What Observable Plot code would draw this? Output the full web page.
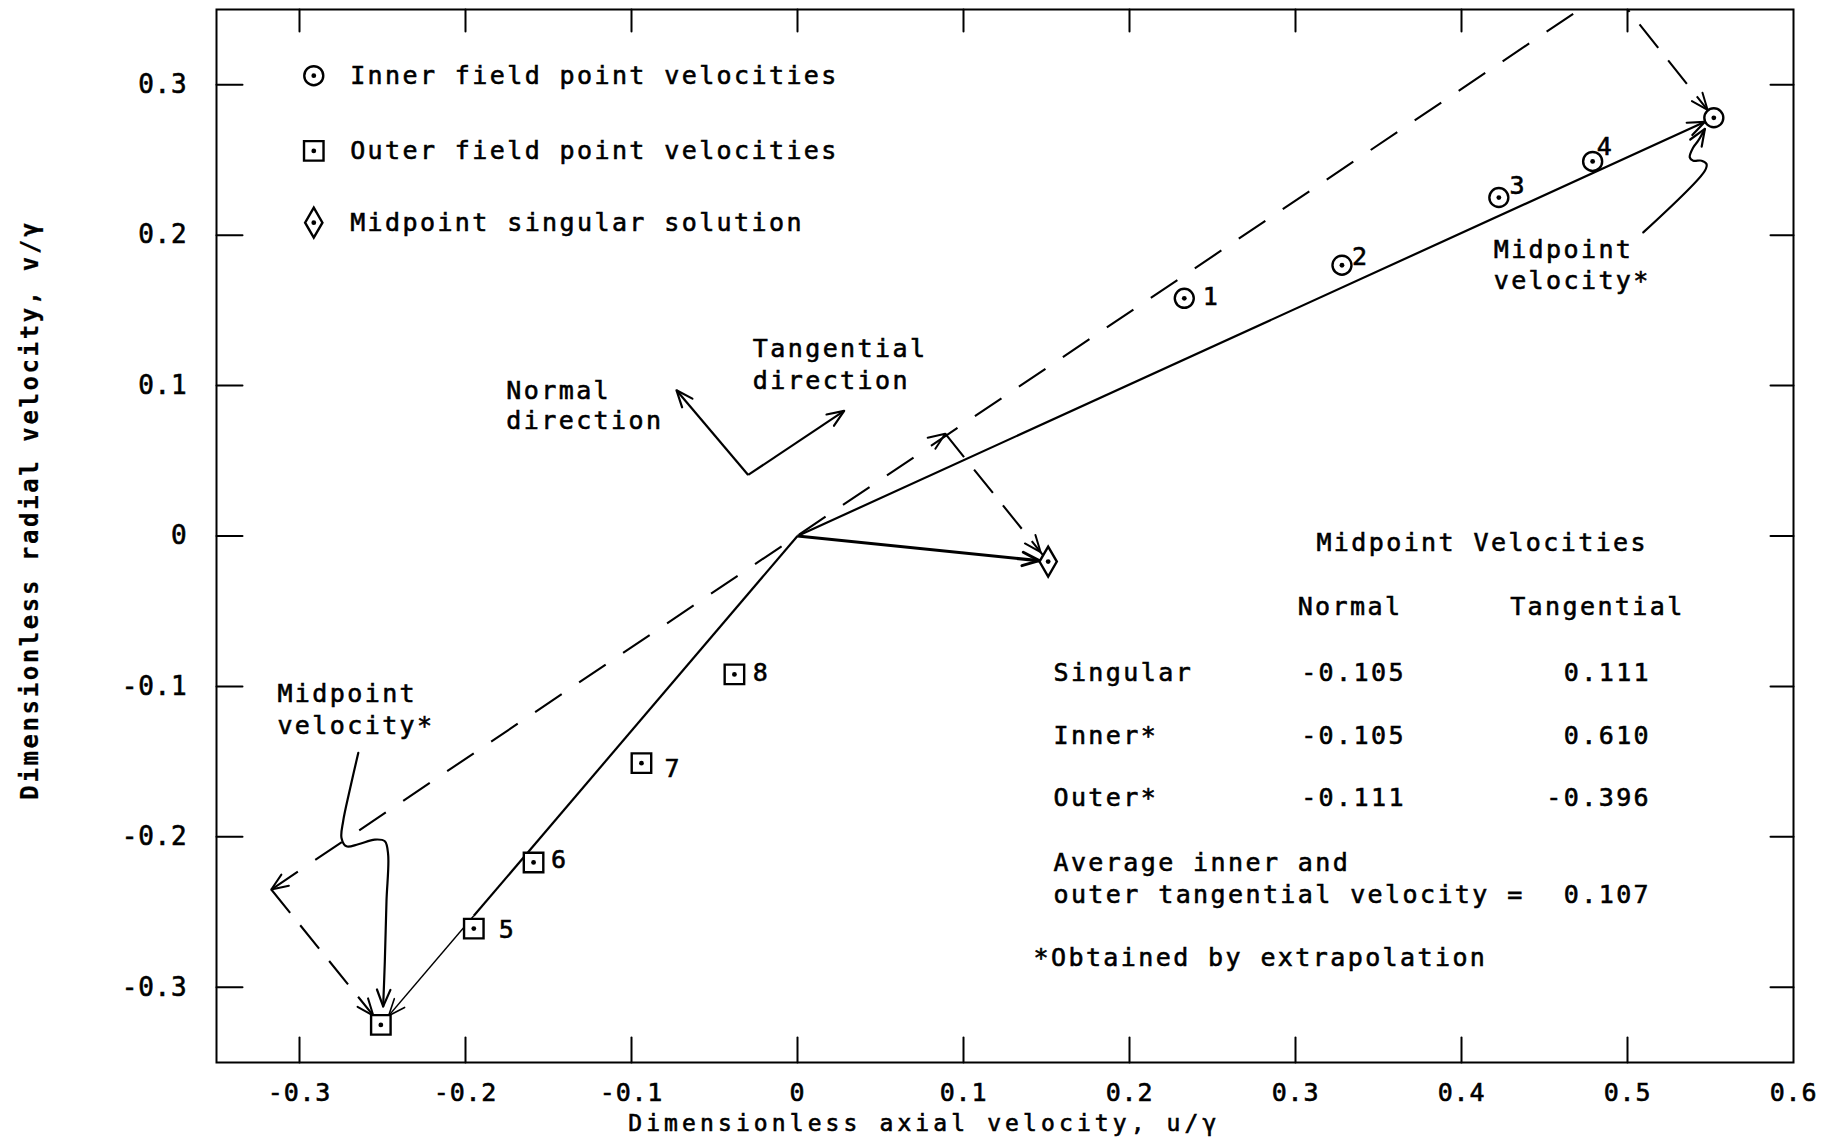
<!DOCTYPE html>
<html><head><meta charset="utf-8">
<script src="https://cdn.jsdelivr.net/npm/d3@7"></script>
<script src="https://cdn.jsdelivr.net/npm/@observablehq/plot@0.6"></script>
<style>
html,body{margin:0;padding:0;background:#fff;}
#chart svg text{letter-spacing:2.4px;stroke:#000;stroke-width:0.6px;}
#chart g[aria-label="x-axis tick label"] text,
#chart g[aria-label="y-axis tick label"] text{letter-spacing:0.8px;}
</style></head><body><div id="chart"></div>
<script>
// ---------- data ----------
const xTicks = [-0.3, -0.2, -0.1, 0, 0.1, 0.2, 0.3, 0.4, 0.5, 0.6];
const yTicks = [-0.3, -0.2, -0.1, 0, 0.1, 0.2, 0.3];

const innerPoints = [
  {label: "1", u: 0.233, v: 0.158},
  {label: "2", u: 0.328, v: 0.180},
  {label: "3", u: 0.4225, v: 0.225},
  {label: "4", u: 0.479, v: 0.249}
];
const outerPoints = [
  {label: "5", u: -0.195, v: -0.261},
  {label: "6", u: -0.159, v: -0.217},
  {label: "7", u: -0.094, v: -0.151},
  {label: "8", u: -0.038, v: -0.092}
];
const origin = {u: 0, v: 0};
const singular = {u: 0.151, v: -0.017};
const innerMid = {u: 0.552, v: 0.278};
const outerMid = {u: -0.251, v: -0.325};
// ends of the tangential components (dashed construction)
const tangSingular = {u: 0.089, v: 0.068};
const tangInner = {u: 0.490, v: 0.364};
const tangOuter = {u: -0.317, v: -0.235};
// normal / tangential direction key
const dirOrigin = {u: -0.0297, v: 0.0406};
const normalTip = {u: -0.0729, v: 0.0969};
const tangTip = {u: 0.0281, v: 0.0832};

const tableRows = ["Singular", "Inner*", "Outer*"];
const tableNormal = ["-0.105", "-0.105", "-0.111"];
const tableTangential = ["0.111", "0.610", "-0.396"];
const averageTangential = "0.107";

const legendItems = ["Inner field point velocities", "Outer field point velocities", "Midpoint singular solution"];
const xTitle = "Dimensionless axial velocity, u/γ";
const yTitle = "Dimensionless radial velocity, v/γ";

// leader curves for "Midpoint velocity*"
const leaderInner = [[0.5095,0.2018],[0.5466,0.2428],[0.5476,0.2473],[0.5446,0.2495],[0.5396,0.2495],[0.5375,0.2517],[0.5396,0.2583],[0.5426,0.2628],[0.5466,0.2706]];
const leaderOuter = [[-0.2646,-0.1442],[-0.2699,-0.1697],[-0.2737,-0.1896],[-0.2747,-0.2007],[-0.2717,-0.2063],[-0.2646,-0.2049],[-0.2546,-0.2018],[-0.2486,-0.2029],[-0.2466,-0.2118],[-0.2476,-0.2428],[-0.2486,-0.2828],[-0.2496,-0.3127]];

// annotation text placement (data units)
const pointLabelPos = [[0.2494,0.1586],[0.3393,0.1852],[0.4341,0.2329],[0.4867,0.2584],[-0.1747,-0.2617],[-0.1432,-0.2151],[-0.0749,-0.1552],[-0.0217,-0.0910]];
const legendU = [-0.2914, -0.2695];
const legendV = [0.306, 0.256, 0.2083];
const rowV = [-0.0908, -0.1330, -0.1744];

// ---------- layout ----------
const W = 1841, H = 1139, ML = 216, MR = 48, MT = 9, MB = 77;
const xDom = [-0.35, 0.6], yDom = [-0.35, 0.35];
const kx = (W - ML - MR) / (xDom[1] - xDom[0]);
const ky = (H - MT - MB) / (yDom[1] - yDom[0]);
const angle = (a, b) => Math.atan2((b.u - a.u) * kx, (b.v - a.v) * ky) * 180 / Math.PI;
const P = (d) => ({u: d[0], v: d[1]});

function chevron(inset, len = 18, half = 22) {
  const a = half * Math.PI / 180, h = len * Math.cos(a), w = len * Math.sin(a);
  return {draw(ctx) { ctx.moveTo(-w, inset + h); ctx.lineTo(0, inset); ctx.lineTo(w, inset + h); }};
}
const tickShape = {draw(ctx, l) { ctx.moveTo(0, 0); ctx.lineTo(0, -l); }};

const tBreak = outerPoints[0].u / outerMid.u;
const outerBreak = {u: outerMid.u * tBreak, v: outerMid.v * tBreak};

const solid = [
  {a: origin, b: innerMid, w: 2.2},
  {a: origin, b: singular, w: 3.2},
  {a: origin, b: outerBreak, w: 2.2},
  {a: outerBreak, b: outerMid, w: 1.4},
  {a: dirOrigin, b: normalTip, w: 2.2},
  {a: dirOrigin, b: tangTip, w: 2.2}
];
const dashedTangent = [{a: tangOuter, b: tangInner}];
const dashedNormal = [
  {a: tangSingular, b: singular},
  {a: tangInner, b: innerMid},
  {a: tangOuter, b: outerMid}
];
const LI = leaderInner.length, LO = leaderOuter.length;
const heads = [
  {a: origin, b: innerMid, inset: 10, w: 2.2},
  {a: origin, b: singular, inset: 9, w: 3},
  {a: origin, b: outerMid, inset: 12, w: 1.6},
  {a: dirOrigin, b: normalTip, inset: 0, w: 2.2},
  {a: dirOrigin, b: tangTip, inset: 0, w: 2.2},
  {a: origin, b: tangSingular, inset: 0, w: 2},
  {a: origin, b: tangOuter, inset: 0, w: 2},
  {a: tangSingular, b: singular, inset: 12, w: 2},
  {a: tangInner, b: innerMid, inset: 10, w: 2},
  {a: tangOuter, b: outerMid, inset: 12, w: 2},
  {a: P(leaderInner[LI - 3]), b: P(leaderInner[LI - 1]), inset: 0, w: 2.2},
  {a: P(leaderOuter[LO - 3]), b: P(leaderOuter[LO - 1]), inset: 0, w: 2.2}
];

const notes = [
  {t: "Tangential", u: -0.0269, v: 0.1240},
  {t: "direction", u: -0.0269, v: 0.1029},
  {t: "Normal", u: -0.1754, v: 0.0966},
  {t: "direction", u: -0.1754, v: 0.0763},
  {t: "Midpoint", u: 0.4194, v: 0.1904},
  {t: "velocity*", u: 0.4194, v: 0.1693},
  {t: "Midpoint", u: -0.3133, v: -0.1049},
  {t: "velocity*", u: -0.3133, v: -0.1260},
  {t: "Midpoint Velocities", u: 0.3126, v: -0.0049},
  {t: "Normal", u: 0.3013, v: -0.0471},
  {t: "Tangential", u: 0.4293, v: -0.0471},
  ...tableRows.map((t, i) => ({t, u: 0.1542, v: rowV[i]})),
  ...tableNormal.map((t, i) => ({t, u: 0.3034, v: rowV[i]})),
  {t: "Average inner and", u: 0.1542, v: -0.2174},
  {t: "outer tangential velocity =", u: 0.1542, v: -0.2385},
  {t: "*Obtained by extrapolation", u: 0.1422, v: -0.2806},
  ...legendItems.map((t, i) => ({t, u: legendU[1], v: legendV[i]}))
];
const rightNotes = [
  ...tableTangential.map((t, i) => ({t, u: 0.5142, v: rowV[i]})),
  {t: averageTangential, u: 0.5142, v: -0.2385}
];
const pointLabels = [...innerPoints, ...outerPoints].map((d, i) => ({t: d.label, u: pointLabelPos[i][0], v: pointLabelPos[i][1]}));

const circles = [...innerPoints, innerMid, {u: legendU[0], v: legendV[0]}];
const squares = [...outerPoints, outerMid, {u: legendU[0], v: legendV[1]}];
const diamonds = [singular, {u: legendU[0], v: legendV[2]}];
const allCenters = [...circles, ...squares, ...diamonds];

const marks = [
  Plot.frame({stroke: "black", strokeWidth: 2}),
  Plot.vector(xTicks.slice(0, -1), {x: d => d, frameAnchor: "bottom", length: 25, rotate: 0, anchor: "start", shape: tickShape, strokeWidth: 2, stroke: "black"}),
  Plot.vector(xTicks.slice(0, -1), {x: d => d, frameAnchor: "top", length: 22, rotate: 180, anchor: "start", shape: tickShape, strokeWidth: 2, stroke: "black"}),
  Plot.vector(yTicks, {y: d => d, frameAnchor: "left", length: 26, rotate: 90, anchor: "start", shape: tickShape, strokeWidth: 2, stroke: "black"}),
  Plot.vector(yTicks, {y: d => d, frameAnchor: "right", length: 23, rotate: -90, anchor: "start", shape: tickShape, strokeWidth: 2, stroke: "black"}),
  Plot.axisX({ticks: xTicks, tickSize: 0, tickPadding: 21, fontSize: 25, tickFormat: d => String(d), label: null}),
  Plot.axisY({ticks: yTicks, tickSize: 0, tickPadding: 29, fontSize: 26, tickFormat: d => String(d), label: null}),
  Plot.link(dashedTangent, {x1: d => d.a.u, y1: d => d.a.v, x2: d => d.b.u, y2: d => d.b.v, stroke: "black", strokeWidth: 2.1, strokeDasharray: "32,21", clip: true}),
  Plot.link(dashedNormal, {x1: d => d.a.u, y1: d => d.a.v, x2: d => d.b.u, y2: d => d.b.v, stroke: "black", strokeWidth: 2.1, strokeDasharray: "30,16", clip: true}),
  ...solid.map(s => Plot.link([s], {x1: d => d.a.u, y1: d => d.a.v, x2: d => d.b.u, y2: d => d.b.v, stroke: "black", strokeWidth: s.w})),
  Plot.line(leaderInner, {x: d => d[0], y: d => d[1], curve: "catmull-rom", stroke: "black", strokeWidth: 2.2}),
  Plot.line(leaderOuter, {x: d => d[0], y: d => d[1], curve: "catmull-rom", stroke: "black", strokeWidth: 2.2}),
  ...heads.map(h => Plot.vector([h], {x: d => d.b.u, y: d => d.b.v, rotate: d => angle(d.a, d.b), length: 18, anchor: "start", shape: chevron(h.inset), stroke: "black", strokeWidth: h.w, clip: true})),
  Plot.dot(circles, {x: "u", y: "v", r: 9.5, stroke: "black", strokeWidth: 2.4, fill: "white"}),
  Plot.dot(squares, {x: "u", y: "v", r: 11, symbol: "square", stroke: "black", strokeWidth: 2.4, fill: "white"}),
  Plot.dot(diamonds, {x: "u", y: "v", r: 9.1, symbol: "diamond", stroke: "black", strokeWidth: 2.4, fill: "white"}),
  Plot.dot(allCenters, {x: "u", y: "v", r: 2.4, fill: "black", stroke: null}),
  Plot.text(notes, {x: "u", y: "v", text: "t", textAnchor: "start", fontSize: 25, fill: "black"}),
  Plot.text(rightNotes, {x: "u", y: "v", text: "t", textAnchor: "end", fontSize: 25, fill: "black"}),
  Plot.text(pointLabels, {x: "u", y: "v", text: "t", textAnchor: "middle", fontSize: 25, fill: "black"}),
  Plot.text([xTitle], {x: 0.0764, y: -0.3905, text: d => d, fontSize: 23, fill: "black", textAnchor: "middle"}),
  Plot.text([yTitle], {x: -0.462, y: 0.0174, text: d => d, rotate: -90, fontSize: 24, fontWeight: "bold", fill: "black", textAnchor: "middle"})
];

const chart = Plot.plot({
  width: W, height: H,
  marginLeft: ML, marginRight: MR, marginTop: MT, marginBottom: MB,
  x: {domain: xDom, label: null},
  y: {domain: yDom, label: null},
  style: {fontFamily: "'DejaVu Sans Mono', monospace", fontSize: "25px", background: "white", color: "black"},
  marks
});
document.getElementById("chart").appendChild(chart);
// title letter spacing
d3.select(chart).selectAll("text").each(function() {
  if (this.textContent === xTitle) { this.style.letterSpacing = "4.1px"; }
  if (this.textContent === yTitle) { this.style.letterSpacing = "2.6px"; this.style.strokeWidth = "0.2px"; }
});
</script></body></html>
